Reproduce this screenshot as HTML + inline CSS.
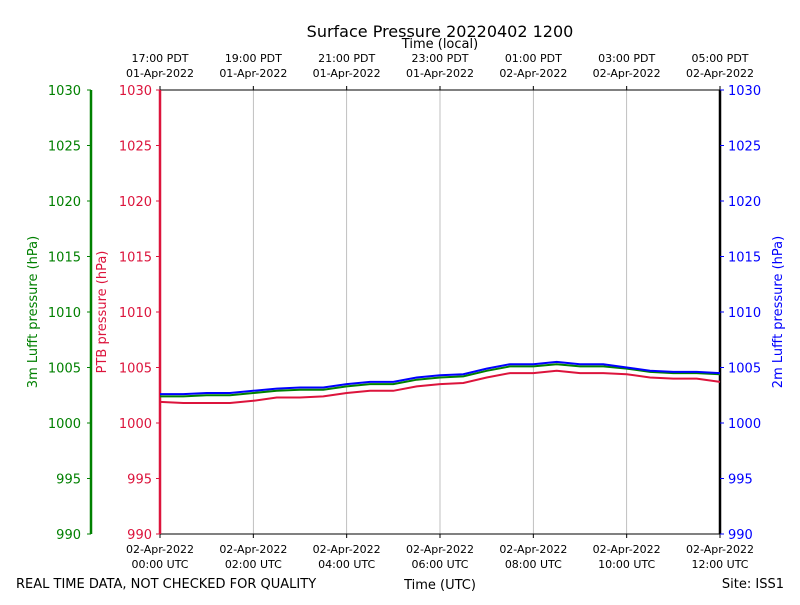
<!DOCTYPE html>
<html><head><meta charset="utf-8"><style>
body{margin:0;background:#fff;}
svg{font-family:"DejaVu Sans","Liberation Sans",sans-serif;}
</style></head><body>
<svg id="c" width="800" height="600" xmlns="http://www.w3.org/2000/svg">
<text x="440" y="37" font-size="16" text-anchor="middle">Surface Pressure 20220402 1200</text>
<text x="440" y="48" font-size="13" text-anchor="middle">Time (local)</text>
<text x="440" y="589" font-size="13" text-anchor="middle">Time (UTC)</text>
<text x="16" y="588" font-size="13">REAL TIME DATA, NOT CHECKED FOR QUALITY</text>
<text x="784" y="588" font-size="13" text-anchor="end">Site: ISS1</text>
<text transform="translate(37,312) rotate(-90)" font-size="13" fill="green" text-anchor="middle">3m Lufft pressure (hPa)</text>
<text transform="translate(106,312) rotate(-90)" font-size="13" fill="crimson" text-anchor="middle">PTB pressure (hPa)</text>
<text transform="translate(782,312) rotate(-90)" font-size="13" fill="blue" text-anchor="middle">2m Lufft pressure (hPa)</text>
<g id="g"></g>
</svg>
<script>
const hours=[0,0.5,1,1.5,2,2.5,3,3.5,4,4.5,5,5.5,6,6.5,7,7.5,8,8.5,9,9.5,10,10.5,11,11.5,12];
const ptb=[1001.9,1001.8,1001.8,1001.8,1002.0,1002.3,1002.3,1002.4,1002.7,1002.9,1002.9,1003.3,1003.5,1003.6,1004.1,1004.5,1004.5,1004.7,1004.5,1004.5,1004.4,1004.1,1004.0,1004.0,1003.7];
const green=[1002.4,1002.4,1002.5,1002.5,1002.7,1002.9,1003.0,1003.0,1003.3,1003.5,1003.5,1003.9,1004.1,1004.2,1004.7,1005.1,1005.1,1005.3,1005.1,1005.1,1004.9,1004.6,1004.5,1004.5,1004.4];
const blue=[1002.6,1002.6,1002.7,1002.7,1002.9,1003.1,1003.2,1003.2,1003.5,1003.7,1003.7,1004.1,1004.3,1004.4,1004.9,1005.3,1005.3,1005.5,1005.3,1005.3,1005.0,1004.7,1004.6,1004.6,1004.5];
const yTicks=[990,995,1000,1005,1010,1015,1020,1025,1030];
const utcLabels=["02-Apr-2022|00:00 UTC","02-Apr-2022|02:00 UTC","02-Apr-2022|04:00 UTC","02-Apr-2022|06:00 UTC","02-Apr-2022|08:00 UTC","02-Apr-2022|10:00 UTC","02-Apr-2022|12:00 UTC"];
const localLabels=["17:00 PDT|01-Apr-2022","19:00 PDT|01-Apr-2022","21:00 PDT|01-Apr-2022","23:00 PDT|01-Apr-2022","01:00 PDT|02-Apr-2022","03:00 PDT|02-Apr-2022","05:00 PDT|02-Apr-2022"];
const X0=160,X1=720,Y0=90,Y1=534;
const xs=h=>X0+(h/12)*(X1-X0);
const ys=v=>Y1-(v-990)/40*(Y1-Y0);
const g=document.getElementById('g');
function el(t,a,txt){const e=document.createElementNS('http://www.w3.org/2000/svg',t);for(const k in a)e.setAttribute(k,a[k]);if(txt!==undefined)e.textContent=txt;g.appendChild(e);return e;}
// grid
utcLabels.forEach((l,i)=>{const x=xs(i*2);
 if(i>0&&i<6){const ln=el('line',{x1:x,x2:x,y1:Y0,y2:Y1,stroke:'#b0b0b0','stroke-width':0.8});
 
 }
 el('line',{x1:x,x2:x,y1:Y1,y2:Y1+4,stroke:'#000'});
 el('line',{x1:x,x2:x,y1:Y0,y2:Y0-4,stroke:'#000'});
 const p=l.split('|');
 const t=el('text',{x:x,y:553,'font-size':11,'text-anchor':'middle'},p[0]);
 
 
 el('text',{x:x,y:568,'font-size':11,'text-anchor':'middle'},p[1]);
 const q=localLabels[i].split('|');
 const t2=el('text',{x:x,y:62,'font-size':11,'text-anchor':'middle'},q[0]);
 
 
 el('text',{x:x,y:77,'font-size':11,'text-anchor':'middle'},q[1]);
});
// frame
el('line',{x1:X0,x2:X1,y1:Y0,y2:Y0,stroke:'#000'});
el('line',{x1:X0,x2:X1,y1:Y1,y2:Y1,stroke:'#000'});
el('line',{x1:X1,x2:X1,y1:Y0,y2:Y1,stroke:'#000','stroke-width':2.5});
el('line',{x1:X0,x2:X0,y1:Y0,y2:Y1,stroke:'crimson','stroke-width':2.5});
el('line',{x1:91,x2:91,y1:Y0,y2:Y1,stroke:'green','stroke-width':2.5});
yTicks.forEach(v=>{const y=ys(v);
 el('line',{x1:X0-4,x2:X0,y1:y,y2:y,stroke:'crimson'});
 el('line',{x1:87,x2:91,y1:y,y2:y,stroke:'green'});
 el('line',{x1:X1,x2:X1+4,y1:y,y2:y,stroke:'blue'});
 const a=el('text',{x:X0-8,y:y+5,'font-size':13,'text-anchor':'end',fill:'crimson'},v);
 
 
 const b=el('text',{x:81,y:y+5,'font-size':13,'text-anchor':'end',fill:'green'},v);
 
 
 const c=el('text',{x:X1+8,y:y+5,'font-size':13,fill:'blue'},v);
 
 
});
function line(arr,col,name){
 const d=arr.map((v,i)=>(i?'L':'M')+xs(hours[i]).toFixed(1)+','+ys(v).toFixed(1)).join('');
 const p=el('path',{d:d,fill:'none',stroke:col,'stroke-width':2});
 
 
}
line(ptb,'crimson','ptb-series');
line(green,'green','lufft-3m-series');
line(blue,'blue','lufft-2m-series');
</script>
</body></html>
